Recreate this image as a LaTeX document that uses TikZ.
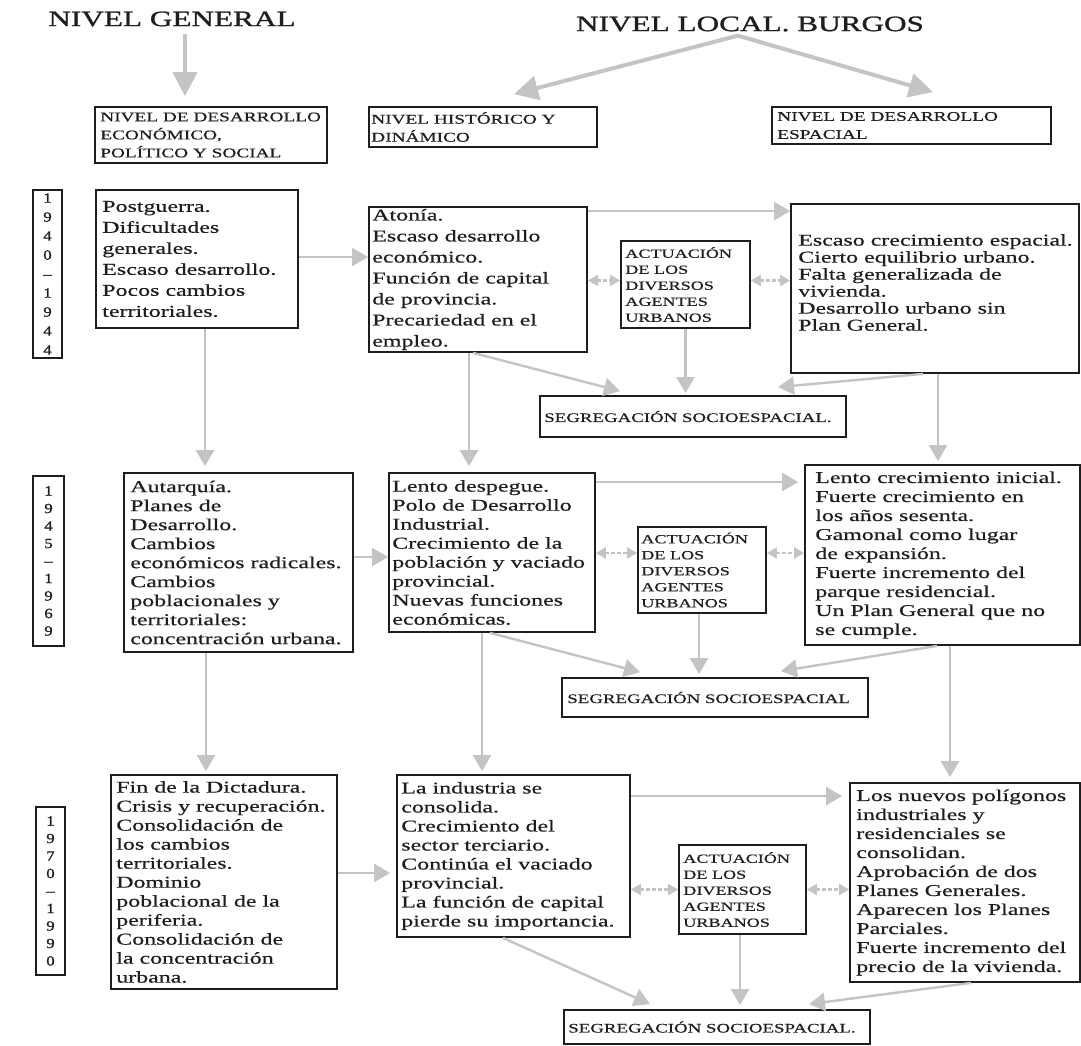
\documentclass[tikz,border=0pt]{standalone}
\usepackage{fontspec}
\setmainfont{Liberation Serif}[FakeStretch=1.45,FakeBold=0.5]
\newfontfamily\titlefont{Liberation Serif}[FakeStretch=1.42,FakeBold=1.2]
\newfontfamily\yearfont{Liberation Serif}[FakeStretch=1.2,FakeBold=1.2]
\usetikzlibrary{arrows.meta}
\definecolor{cgray}{HTML}{C4C4C4}
\definecolor{ink}{HTML}{1E1E1E}
\tikzset{
  frame/.style={draw=ink, line width=1.8pt, inner sep=0pt, fill=white},
  txt/.style={inner sep=0pt, align=left, text=ink, anchor=west},
  body/.style={txt, font=\fontsize{16.5}{19}\selectfont},
  bodywide/.style={txt, font=\fontsize{16.5}{21}\selectfont},
  bodytight/.style={txt, font=\fontsize{16.5}{17}\selectfont},
  headtxt/.style={txt, font=\fontsize{13.3}{18}\selectfont},
  acttxt/.style={txt, font=\fontsize{12.5}{16}\selectfont},
  segtxt/.style={txt, font=\fontsize{13}{15}\selectfont},
  yeartxt/.style={inner sep=0pt, align=center, text=ink},
  titletxt/.style={inner sep=0pt, text=ink, font=\titlefont\fontsize{22}{24}\selectfont},
  conn/.style={draw=cgray, line width=2.4pt, -{Triangle[width=18pt,length=16pt]}},
  dbl/.style={draw=cgray, line width=2.2pt, dash pattern=on 4pt off 2pt,
    {Triangle[width=11pt,length=10pt]}-{Triangle[width=11pt,length=10pt]}},
  big/.style={draw=cgray, line width=4pt, -{Triangle[width=24pt,length=24pt]}},
}
\begin{document}
\begin{tikzpicture}[x=1pt,y=-1pt]
\useasboundingbox (0,0) rectangle (1081,1046);
\fill[white] (0,0) rectangle (1081,1046);

% titles
\node[titletxt] (tg) at (172,19) {NIVEL GENERAL};
\node[titletxt] (tl) at (750,24) {NIVEL LOCAL. BURGOS};

% header boxes
\node[frame, minimum width=232pt, minimum height=56pt] (h1) at (211,135) {};
\node[headtxt] at ([xshift=6pt]h1.west) {NIVEL DE DESARROLLO\\ECONÓMICO,\\POLÍTICO Y SOCIAL};
\node[frame, minimum width=228pt, minimum height=40pt] (h2) at (483,127) {};
\node[headtxt] at ([xshift=3pt]h2.west) {NIVEL HISTÓRICO Y\\DINÁMICO};
\node[frame, minimum width=279pt, minimum height=37pt] (h3) at (911.5,125.5) {};
\node[headtxt] at ([xshift=6pt]h3.west) {NIVEL DE DESARROLLO\\ESPACIAL};

% year boxes
\node[frame, minimum width=29pt, minimum height=168pt] (y1) at (47.5,274) {};
\node[yeartxt, font=\yearfont\fontsize{14}{19}\selectfont] at (y1.center) {1\\9\\4\\0\\–\\1\\9\\4\\4};
\node[frame, minimum width=31pt, minimum height=170pt] (y2) at (48.5,561) {};
\node[yeartxt, font=\yearfont\fontsize{14}{17.5}\selectfont] at (y2.center) {1\\9\\4\\5\\–\\1\\9\\6\\9};
\node[frame, minimum width=29pt, minimum height=168pt] (y3) at (50.5,891) {};
\node[yeartxt, font=\yearfont\fontsize{14}{17.5}\selectfont] at (y3.center) {1\\9\\7\\0\\–\\1\\9\\9\\0};

% ---------- row 1
\node[frame, minimum width=202pt, minimum height=138pt] (pg) at (197,259) {};
\node[bodywide] at ([xshift=7pt]pg.west) {Postguerra.\\Dificultades\\generales.\\Escaso desarrollo.\\Pocos cambios\\territoriales.};
\node[frame, minimum width=218pt, minimum height=145pt] (at1) at (478,279.5) {};
\node[bodywide] at ([xshift=4pt]at1.west) {Atonía.\\Escaso desarrollo\\económico.\\Función de capital\\de provincia.\\Precariedad en el\\empleo.};
\node[frame, minimum width=129pt, minimum height=87pt] (ac1) at (685.5,284.5) {};
\node[acttxt] at ([xshift=5pt]ac1.west) {ACTUACIÓN\\DE LOS\\DIVERSOS\\AGENTES\\URBANOS};
\node[frame, minimum width=288pt, minimum height=169pt] (rb1) at (935,288.5) {};
\node[bodytight] at ([xshift=8pt,yshift=6pt]rb1.west) {Escaso crecimiento espacial.\\Cierto equilibrio urbano.\\Falta generalizada de\\vivienda.\\Desarrollo urbano sin\\Plan General.};
\node[frame, minimum width=306pt, minimum height=41pt] (sg1) at (693,416.5) {};
\node[segtxt] at ([xshift=5pt]sg1.west) {SEGREGACIÓN SOCIOESPACIAL.};

% ---------- row 2
\node[frame, minimum width=229pt, minimum height=179pt] (au) at (238.5,562.5) {};
\node[body] at ([xshift=7pt]au.west) {Autarquía.\\Planes de\\Desarrollo.\\Cambios\\económicos radicales.\\Cambios\\poblacionales y\\territoriales:\\concentración urbana.};
\node[frame, minimum width=206pt, minimum height=159pt] (ld) at (492,552.5) {};
\node[body] at ([xshift=4pt]ld.west) {Lento despegue.\\Polo de Desarrollo\\Industrial.\\Crecimiento de la\\población y vaciado\\provincial.\\Nuevas funciones\\económicas.};
\node[frame, minimum width=128pt, minimum height=86pt] (ac2) at (702,570) {};
\node[acttxt] at ([xshift=4pt]ac2.west) {ACTUACIÓN\\DE LOS\\DIVERSOS\\AGENTES\\URBANOS};
\node[frame, minimum width=275pt, minimum height=180pt] (rb2) at (942.5,555) {};
\node[body] at ([xshift=11pt]rb2.west) {Lento crecimiento inicial.\\Fuerte crecimiento en\\los años sesenta.\\Gamonal como lugar\\de expansión.\\Fuerte incremento del\\parque residencial.\\Un Plan General que no\\se cumple.};
\node[frame, minimum width=306pt, minimum height=39pt] (sg2) at (715,697.5) {};
\node[segtxt] at ([xshift=6pt]sg2.west) {SEGREGACIÓN SOCIOESPACIAL};

% ---------- row 3
\node[frame, minimum width=226pt, minimum height=214pt] (fd) at (224,882) {};
\node[body] at ([xshift=6pt]fd.west) {Fin de la Dictadura.\\Crisis y recuperación.\\Consolidación de\\los cambios\\territoriales.\\Dominio\\poblacional de la\\periferia.\\Consolidación de\\la concentración\\urbana.};
\node[frame, minimum width=233pt, minimum height=162pt] (li) at (513.5,856) {};
\node[body] at ([xshift=5pt]li.west) {La industria se\\consolida.\\Crecimiento del\\sector terciario.\\Continúa el vaciado\\provincial.\\La función de capital\\pierde su importancia.};
\node[frame, minimum width=127pt, minimum height=89pt] (ac3) at (742.5,889.5) {};
\node[acttxt] at ([xshift=5pt]ac3.west) {ACTUACIÓN\\DE LOS\\DIVERSOS\\AGENTES\\URBANOS};
\node[frame, minimum width=230pt, minimum height=199pt] (rb3) at (965,882.5) {};
\node[body] at ([xshift=7pt]rb3.west) {Los nuevos polígonos\\industriales y\\residenciales se\\consolidan.\\Aprobación de dos\\Planes Generales.\\Aparecen los Planes\\Parciales.\\Fuerte incremento del\\precio de la vivienda.};
\node[frame, minimum width=306pt, minimum height=34pt] (sg3) at (717,1027) {};
\node[segtxt] at ([xshift=5pt]sg3.west) {SEGREGACIÓN SOCIOESPACIAL.};

% ---------- title arrows
\draw[big] ([xshift=13pt,yshift=-7pt]tg.south) -- ([xshift=-26pt,yshift=10pt]h1.north);
\draw[big] ([xshift=-12pt,yshift=-4pt]tl.south) -- ([xshift=31pt,yshift=12pt]h2.north);
\draw[big] ([xshift=-12pt,yshift=-4pt]tl.south) -- ([xshift=21.5pt,yshift=14pt]h3.north);

% ---------- row 1 connectors
\draw[conn] ([yshift=2pt]pg.east) -- ([yshift=2pt]pg.east -| at1.west);
\draw[conn] ([yshift=-5pt]at1.north east) -- ([yshift=-5pt]at1.north east -| rb1.west);
\draw[dbl] ([yshift=4pt]ac1.west -| at1.east) -- ([yshift=4pt]ac1.west);
\draw[dbl] ([yshift=4pt]ac1.east) -- ([yshift=4pt]ac1.east -| rb1.west);
\draw[conn, shorten >=2pt] (ac1.south) -- (ac1.south |- sg1.north);
\draw[conn] ([xshift=-5pt]at1.south) -- ([xshift=-73pt,yshift=4pt]sg1.north);
\draw[conn] ([xshift=-12pt]rb1.south) -- ([xshift=85pt,yshift=8pt]sg1.north);

% row 1 -> row 2
\draw[conn, shorten >=6pt] ([xshift=8pt]pg.south) -- ([xshift=8pt]pg.south |- au.north);
\draw[conn, shorten >=6pt] ([xshift=-9pt]at1.south) -- ([xshift=-9pt]at1.south |- ld.north);
\draw[conn, shorten >=3pt] ([xshift=3pt]rb1.south) -- ([xshift=3pt]rb1.south |- rb2.north);

% ---------- row 2 connectors
\draw[conn] ([yshift=-4.5pt]ld.west -| au.east) -- ([yshift=-4.5pt]ld.west);
\draw[conn, shorten >=6pt] ([yshift=-10pt]ld.north east) -- ([yshift=-10pt]ld.north east -| rb2.west);
\draw[dbl] ([yshift=17pt]ac2.west -| ld.east) -- ([yshift=17pt]ac2.west);
\draw[dbl] ([yshift=17pt]ac2.east) -- ([yshift=17pt]ac2.east -| rb2.west);
\draw[conn, shorten >=3pt] ([xshift=-3pt]ac2.south) -- ([xshift=-3pt]ac2.south |- sg2.north);
\draw[conn] ([xshift=-2pt]ld.south) -- ([xshift=-75pt,yshift=5pt]sg2.north);
\draw[conn] ([xshift=-5.5pt]rb2.south) -- ([xshift=66pt,yshift=6pt]sg2.north);

% row 2 -> row 3
\draw[conn, shorten >=3pt] ([xshift=-32.5pt]au.south) -- ([xshift=-32.5pt]au.south |- fd.north);
\draw[conn, shorten >=3pt] ([xshift=-10pt]ld.south) -- ([xshift=-10pt]ld.south |- li.north);
\draw[conn, shorten >=5pt] ([xshift=7.5pt]rb2.south) -- ([xshift=7.5pt]rb2.south |- rb3.north);

% ---------- row 3 connectors
\draw[conn, shorten >=6pt] ([yshift=9pt]fd.east) -- ([yshift=9pt]fd.east -| li.west);
\draw[conn, shorten >=7pt] ([yshift=-22pt]li.north east) -- ([yshift=-22pt]li.north east -| rb3.west);
\draw[dbl] (ac3.west -| li.east) -- (ac3.west);
\draw[dbl] (ac3.east) -- (ac3.east -| rb3.west);
\draw[conn, shorten >=4pt] ([xshift=-2.5pt]ac3.south) -- ([xshift=-2.5pt]ac3.south |- sg3.north);
\draw[conn] ([xshift=-10.5pt]li.south) -- ([xshift=-67pt,yshift=5pt]sg3.north);
\draw[conn] ([xshift=6pt]rb3.south) -- ([xshift=92pt,yshift=5pt]sg3.north);
\end{tikzpicture}
\end{document}
